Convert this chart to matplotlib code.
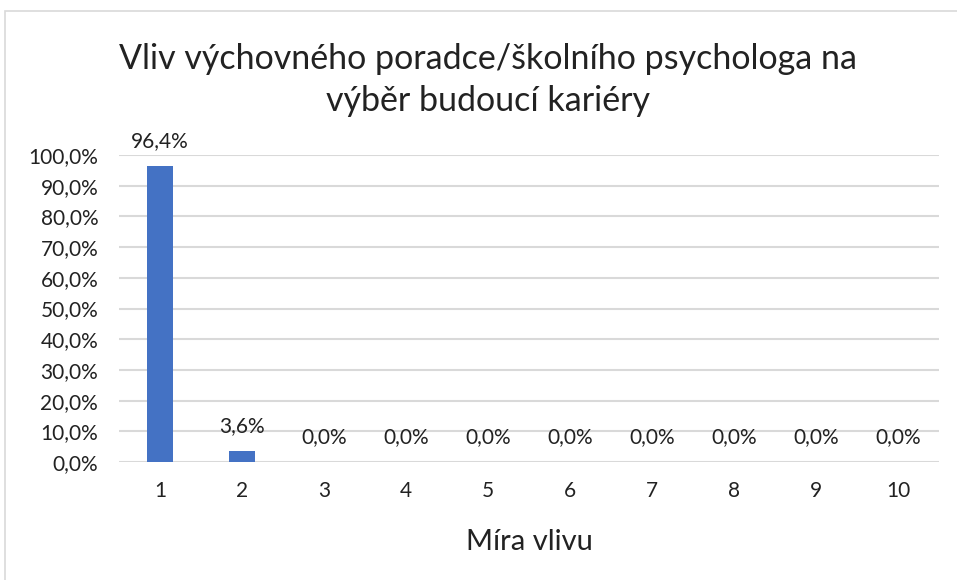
import matplotlib
matplotlib.use("Agg")
import matplotlib.pyplot as plt
from matplotlib.patches import Rectangle

plt.rcParams['font.family'] = ['Lato', 'DejaVu Sans']

categories = ["1", "2", "3", "4", "5", "6", "7", "8", "9", "10"]
values = [96.4, 3.6, 0.0, 0.0, 0.0, 0.0, 0.0, 0.0, 0.0, 0.0]
yticks = [0, 10, 20, 30, 40, 50, 60, 70, 80, 90, 100]

fig = plt.figure(figsize=(9.57, 5.8), dpi=100)
W, H = 957, 580
ax = fig.add_axes([119 / W, 1 - 462 / H, (939 - 119) / W, (462 - 155) / H])

# chart border (runs off the right and bottom of the image)
fig.patches.append(Rectangle((4.5 / W, -0.1), 1.2, 1 - 10.5 / H + 0.1,
                             transform=fig.transFigure, fill=False,
                             edgecolor="#d9d9d9", linewidth=1.2))

x = list(range(len(categories)))
ax.bar(x, values, width=0.31, color="#4472C4", zorder=3)
for xi, v in zip(x, values):
    ax.annotate(("%.1f%%" % v).replace(".", ","), (xi, v), xytext=(0, 18),
                textcoords="offset points", ha="center", va="center",
                fontsize=15, color="#222222")

ax.set_xlim(-0.5, len(categories) - 0.5)
ax.set_ylim(0, 100)
ax.set_yticks(yticks)
ax.set_yticklabels([("%.1f%%" % t).replace(".", ",") for t in yticks])
ax.set_xticks(x)
ax.set_xticklabels(categories)
ax.tick_params(axis="both", length=0, labelsize=15, colors="#222222")
ax.tick_params(axis="x", pad=14)
ax.tick_params(axis="y", pad=15)
ax.yaxis.grid(True, color="#d9d9d9", linewidth=1.5, zorder=0)
for s in ax.spines.values():
    s.set_visible(False)

ax.set_xlabel("Míra vlivu", fontsize=21, color="#222222", labelpad=20)
fig.text(488 / W, 1 - 80 / H,
         "Vliv výchovného poradce/školního psychologa na\nvýběr budoucí kariéry",
         ha="center", va="center", fontsize=24.5, color="#222222", linespacing=1.35)

fig.savefig("out.png", dpi=100)
